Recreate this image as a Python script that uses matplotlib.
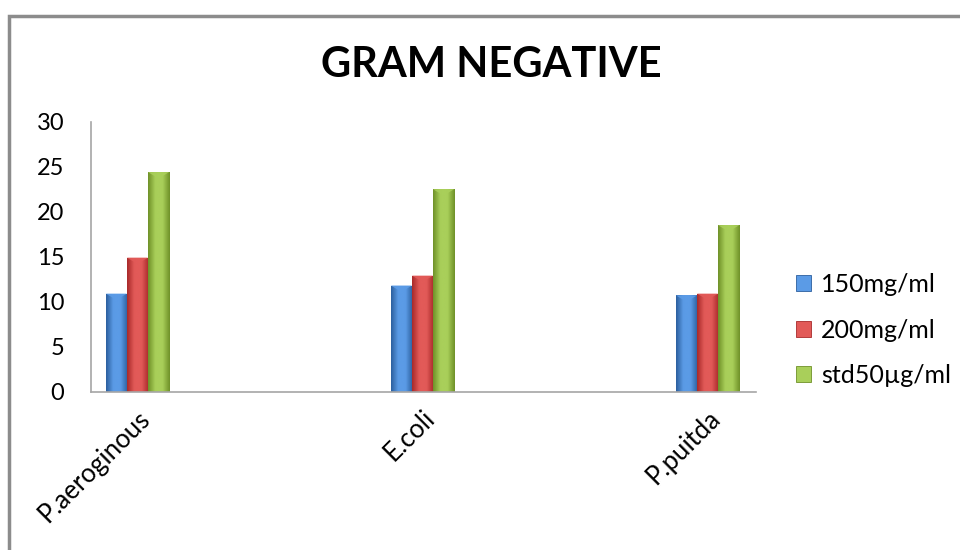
import matplotlib
matplotlib.use("Agg")
import matplotlib.pyplot as plt
import numpy as np
from matplotlib.colors import LinearSegmentedColormap
from matplotlib.patches import Rectangle, Polygon

# data
organisms = ['P.aeroginous', 'E.coli', 'P.puitda']
conc_150 = [10.9, 11.8, 10.7]
conc_200 = [14.9, 12.9, 10.9]
std_50 = [24.4, 22.5, 18.5]
series_names = ['150mg/ml', '200mg/ml', 'std50\u00b5g/ml']

plt.rcParams['font.family'] = ['Lato', 'DejaVu Sans']

fig = plt.figure(figsize=(9.6, 5.5), dpi=100)
ax = fig.add_axes([0.0945, 0.2878, 0.693, 0.4909])

# (dark edge, light centre) per series
shades = [('#2c5f9e', '#5b9be6'), ('#a82a2a', '#e25a58'), ('#6f9128', '#a9cf5a')]
x = np.arange(len(organisms))
w = 0.074

handles = []
for i, (vals, name) in enumerate(zip([conc_150, conc_200, std_50], series_names)):
    dark, light = shades[i]
    bars = ax.bar(x + (i - 1) * w, vals, width=w, color=light, edgecolor=dark,
                  linewidth=0.6, label=name, zorder=2)
    cmap = LinearSegmentedColormap.from_list('c%d' % i, [dark, light, light, dark])
    grad = np.linspace(0, 1, 64).reshape(1, -1)
    for b in bars:
        bx, bw, bh = b.get_x(), b.get_width(), b.get_height()
        im = ax.imshow(grad, cmap=cmap, aspect='auto', extent=[bx, bx + bw, 0, bh],
                       zorder=2.5, interpolation='bicubic')
        im.set_clip_path(b)
        # little bevel on top of each bar
        tri = Polygon([[bx, bh], [bx + bw, bh], [bx + bw * 0.5, bh - 0.7]],
                      closed=True, color=light, alpha=0.9, zorder=3, lw=0)
        ax.add_patch(tri)
    handles.append(bars)

ax.set_xlim(-0.164, 2.17)
ax.set_ylim(0, 30)
ax.set_yticks(np.arange(0, 31, 5))
ax.set_xticks(x)
ax.set_xticklabels(organisms, rotation=45, ha='right', va='top',
                   rotation_mode='anchor', fontsize=18.5)
ax.tick_params(axis='y', length=0, pad=19, labelsize=17)
ax.tick_params(axis='x', length=0, pad=10)

for s in ['top', 'right']:
    ax.spines[s].set_visible(False)
ax.spines['left'].set_color('#a6a6a6')
ax.spines['bottom'].set_color('#a6a6a6')
ax.spines['left'].set_linewidth(1.2)
ax.spines['bottom'].set_linewidth(1.2)

fig.text(0.512, 0.882, 'GRAM NEGATIVE', ha='center', va='center',
         fontsize=30, fontweight='bold')

fig.legend(handles=handles, labels=series_names, loc='center left',
           bbox_to_anchor=(0.806, 0.4), frameon=False, fontsize=18,
           handlelength=0.6, handleheight=0.6, handletextpad=0.4,
           labelspacing=0.9)

# chart area border
fig.patches.append(Rectangle((9 / 960, -0.1), 1.2, (550 - 15.5) / 550 + 0.1,
                             transform=fig.transFigure, fill=False,
                             edgecolor='#8c8c8c', linewidth=2.5))

fig.savefig('out.png', dpi=100)
